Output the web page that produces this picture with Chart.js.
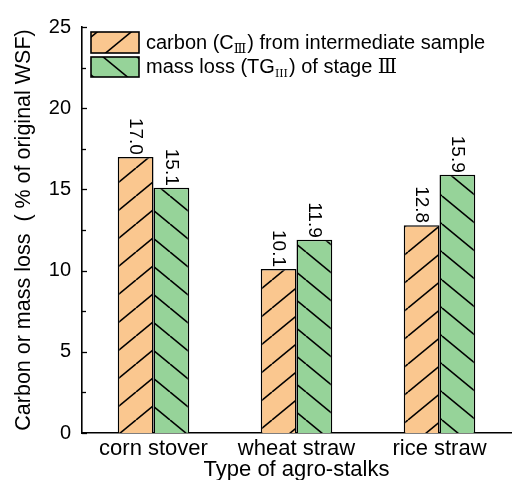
<!DOCTYPE html>
<html>
<head>
<meta charset="utf-8">
<script src="https://cdn.jsdelivr.net/npm/chart.js@4/dist/chart.umd.min.js"></script>
<style>
html,body{margin:0;padding:0;background:#fff;}
#wrap{width:512px;height:480px;position:relative;}
</style>
</head>
<body>
<div id="wrap"><canvas id="c" width="512" height="480"></canvas></div>
<script>
// ---- data ----
const categories = ['corn stover', 'wheat straw', 'rice straw'];
const carbonValues = [17.0, 10.1, 12.8];
const massLossValues = [15.1, 11.9, 15.9];
const yTicks = [0, 5, 10, 15, 20, 25];
const seriesNames = ['carbon (C|\u2162|) from intermediate sample', 'mass loss (TG|III|) of stage \u2162'];
const xTitle = 'Type of agro-stalks';
const yTitle = 'Carbon or mass loss  ( % of original WSF)';

const ORANGE = '#FAC78F';
const GREEN = '#96D399';
const FONT = '"Liberation Sans", Arial, sans-serif';
const SERIF = '"DejaVu Serif", "Liberation Serif", serif';

function makeHatch(color, dir) {
  const w = 34, h = 28;
  const t = document.createElement('canvas');
  t.width = w; t.height = h;
  const g = t.getContext('2d');
  g.fillStyle = color; g.fillRect(0, 0, w, h);
  g.strokeStyle = '#000'; g.lineWidth = 1.6;
  for (let k = -1; k <= 1; k++) {
    g.beginPath();
    if (dir === '/') { g.moveTo(k * w, h); g.lineTo(k * w + w, 0); }
    else { g.moveTo(k * w, 0); g.lineTo(k * w + w, h); }
    g.stroke();
  }
  return document.getElementById('c').getContext('2d').createPattern(t, 'repeat');
}
const orangeHatch = makeHatch(ORANGE, '/');
const greenHatch = makeHatch(GREEN, '\\');

const inwardTicks = {
  id: 'inwardTicks',
  afterDraw(chart) {
    const ctx = chart.ctx, y = chart.scales.y;
    const x0 = chart.chartArea.left;
    ctx.save();
    ctx.strokeStyle = '#000'; ctx.lineWidth = 1.3;
    for (let v = 0; v <= 25; v += 2.5) {
      const py = Math.round(y.getPixelForValue(v)) + 0.5;
      const len = (v % 5 === 0) ? 5 : 4;
      ctx.beginPath(); ctx.moveTo(x0, py); ctx.lineTo(x0 + len, py); ctx.stroke();
    }
    ctx.restore();
  }
};

const valueLabels = {
  id: 'valueLabels',
  afterDatasetsDraw(chart) {
    const ctx = chart.ctx;
    ctx.save();
    ctx.fillStyle = '#000';
    ctx.font = '19px ' + FONT;
    chart.data.datasets.forEach((ds, di) => {
      const meta = chart.getDatasetMeta(di);
      meta.data.forEach((bar, i) => {
        ctx.save();
        ctx.translate(bar.x, bar.y - 2);
        ctx.rotate(Math.PI / 2);
        ctx.textAlign = 'right';
        ctx.textBaseline = 'middle';
        ctx.fillText(ds.data[i].toFixed(1), 0, 0);
        ctx.restore();
      });
    });
    ctx.restore();
  }
};

function drawRich(ctx, str, x, y) {
  const parts = str.split('|');
  let cx = x;
  parts.forEach((p, i) => {
    if (i % 2 === 1) {
      ctx.font = (p === '\u2162' ? '13px ' : '11px ') + SERIF;
      ctx.fillText(p, cx, y + 4);
      cx += ctx.measureText(p).width + 1;
    } else {
      const segs = p.split(/(\u2162)/);
      segs.forEach(s => {
        if (!s) return;
        ctx.font = (s === '\u2162' ? '20px ' + SERIF : '20px ' + FONT);
        ctx.fillText(s, cx, y);
        cx += ctx.measureText(s).width;
      });
    }
  });
}

const customLegend = {
  id: 'customLegend',
  afterDraw(chart) {
    const ctx = chart.ctx;
    const fills = [orangeHatch, greenHatch];
    const boxes = [[91, 32, 48, 21], [91, 57, 48, 20]];
    ctx.save();
    seriesNames.forEach((name, i) => {
      const [bx, by, bw, bh] = boxes[i];
      ctx.fillStyle = fills[i];
      ctx.fillRect(bx, by, bw, bh);
      ctx.strokeStyle = '#000'; ctx.lineWidth = 1.6;
      ctx.strokeRect(bx, by, bw, bh);
      ctx.fillStyle = '#000';
      ctx.textBaseline = 'alphabetic';
      ctx.textAlign = 'left';
      drawRich(ctx, name, 146, by + bh - 4);
    });
    ctx.restore();
  }
};

new Chart(document.getElementById('c'), {
  type: 'bar',
  data: {
    labels: categories,
    datasets: [
      { data: carbonValues, backgroundColor: orangeHatch, borderColor: '#000', borderWidth: 1.5, categoryPercentage: 0.5, barPercentage: 1.0 },
      { data: massLossValues, backgroundColor: greenHatch, borderColor: '#000', borderWidth: 1.5, categoryPercentage: 0.5, barPercentage: 1.0 }
    ]
  },
  options: {
    responsive: false,
    animation: false,
    devicePixelRatio: 1,
    layout: { padding: { top: 27, right: 1, left: 0, bottom: 0 } },
    plugins: { legend: { display: false }, tooltip: { enabled: false } },
    scales: {
      x: {
        grid: { display: false, drawTicks: false },
        border: { display: true, color: '#000', width: 1.6 },
        ticks: { color: '#000', font: { size: 22, family: FONT }, padding: 3 },
        title: { display: true, text: xTitle, color: '#000', font: { size: 22, family: FONT }, padding: { top: 0, bottom: -3 } },
        afterFit(s) { s.height = 47; }
      },
      y: {
        min: 0, max: 25,
        afterBuildTicks(s) { s.ticks = yTicks.map(v => ({ value: v })); },
        grid: { display: false, drawTicks: false },
        border: { display: true, color: '#000', width: 1.6 },
        ticks: { color: '#000', font: { size: 20, family: FONT }, padding: 11 },
        title: { display: true, text: yTitle, color: '#000', font: { size: 21.5, family: FONT }, padding: { top: 11, bottom: 0 } },
        afterFit(s) { s.width = 82; }
      }
    }
  },
  plugins: [inwardTicks, valueLabels, customLegend]
});
</script>
</body>
</html>
